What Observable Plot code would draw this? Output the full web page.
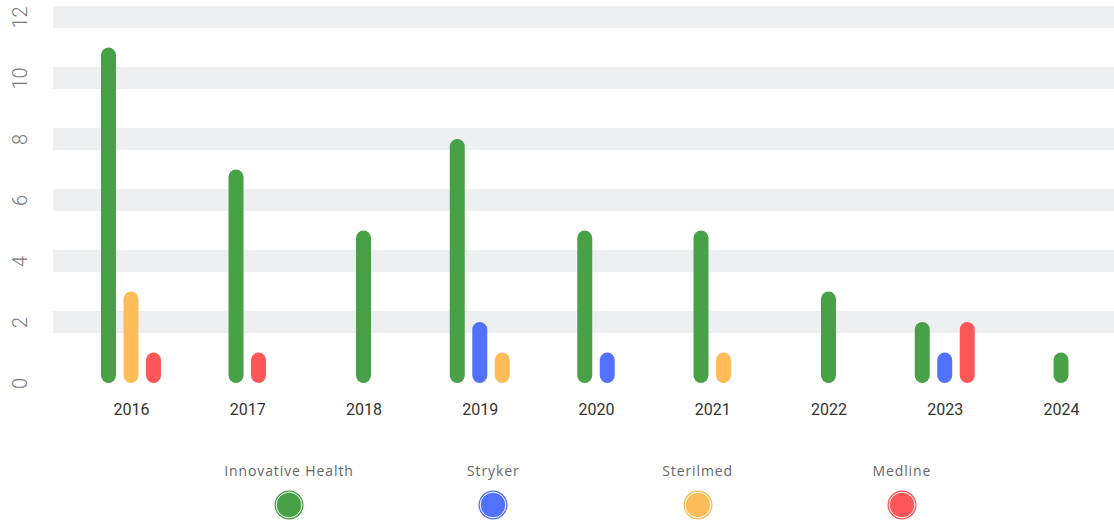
<!DOCTYPE html>
<html>
<head>
<meta charset="utf-8">
<script src="https://cdn.jsdelivr.net/npm/d3@7"></script>
<script src="https://cdn.jsdelivr.net/npm/@observablehq/plot@0.6"></script>
<style>
  html, body { margin: 0; padding: 0; background: #fff; }
  #chart { width: 1114px; height: 440px; }
  #legend { position: relative; width: 1114px; height: 85px; }
  .item { position: absolute; top: 0; width: 204px; margin-left: -102px; text-align: center; }
  .item .lbl { font-family: "Open Sans", sans-serif; font-size: 14px; letter-spacing: 0.9px; color: #666; line-height: 20px; margin-top: 21px; }
  .item svg { display: block; margin: 9px auto 0 auto; }
</style>
</head>
<body>
<div id="chart"></div>
<div id="legend"></div>
<script>
const years = ["2016", "2017", "2018", "2019", "2020", "2021", "2022", "2023", "2024"];
const seriesNames = ["Innovative Health", "Stryker", "Sterilmed", "Medline"];
const seriesColors = ["#48a047", "#5271ff", "#ffbd59", "#ff5757"];
const innovativeHealth = [11, 7, 5, 8, 5, 5, 3, 2, 1];
const stryker = [0, 0, 0, 2, 1, 0, 0, 1, 0];
const sterilmed = [3, 0, 0, 1, 0, 1, 0, 0, 0];
const medline = [1, 1, 0, 0, 0, 0, 0, 2, 0];
const yTicks = [0, 2, 4, 6, 8, 10, 12];

const seriesValues = [innovativeHealth, stryker, sterilmed, medline];

// Build rows; bars within a year are packed side by side and centred on the year.
const rows = [];
years.forEach((year, i) => {
  const present = seriesNames
    .map((name, s) => ({ name, value: seriesValues[s][i] }))
    .filter(d => d.value > 0);
  present.forEach((d, k) => {
    rows.push({ year, i, k, n: present.length, series: d.name, value: d.value });
  });
});

const slot = 0.1935;   // distance between neighbouring bars, in year units
const half = 0.0645;   // half bar width, in year units
const center = d => d.i + (d.k - (d.n - 1) / 2) * slot;

const chart = Plot.plot({
  width: 1114,
  height: 440,
  marginLeft: 53,
  marginRight: 0,
  marginTop: 6,
  marginBottom: 57,
  style: { fontFamily: "Roboto, sans-serif", background: "#fff" },
  x: { domain: [-0.671, 8.456], axis: null },
  y: { domain: [0, 12.36], axis: null },
  color: { domain: seriesNames, range: seriesColors },
  marks: [
    Plot.rectY(yTicks.filter(v => v > 0), {
      y1: v => v - 0.36, y2: v => v + 0.36, fill: "#eeeff1"
    }),
    Plot.rectY(rows, {
      x1: d => center(d) - half,
      x2: d => center(d) + half,
      y1: 0,
      y2: "value",
      fill: "series",
      rx: 7.5
    }),
    Plot.text(yTicks, {
      y: d => d, text: d => String(d),
      frameAnchor: "left", textAnchor: "middle", dx: -33, rotate: -90,
      fontSize: 20, fontWeight: 300, fill: "#777"
    }),
    Plot.text(years, {
      x: (d, i) => i, text: d => d,
      frameAnchor: "bottom", dy: 31,
      fontSize: 16, fill: "#333", letterSpacing: 0.3
    })
  ]
});
document.getElementById("chart").appendChild(chart);

// Legend below the chart
const legend = document.getElementById("legend");
seriesNames.forEach((name, s) => {
  const item = document.createElement("div");
  item.className = "item";
  item.style.left = (289 + s * 204.3) + "px";
  item.innerHTML = `<div class="lbl">${name}</div>
    <svg width="30" height="30" viewBox="0 0 30 30">
      <circle cx="15" cy="15" r="14.5" fill="${seriesColors[s]}"></circle>
      <circle cx="15" cy="15" r="12.8" fill="none" stroke="#fff" stroke-width="1"></circle>
    </svg>`;
  legend.appendChild(item);
});
</script>
</body>
</html>
